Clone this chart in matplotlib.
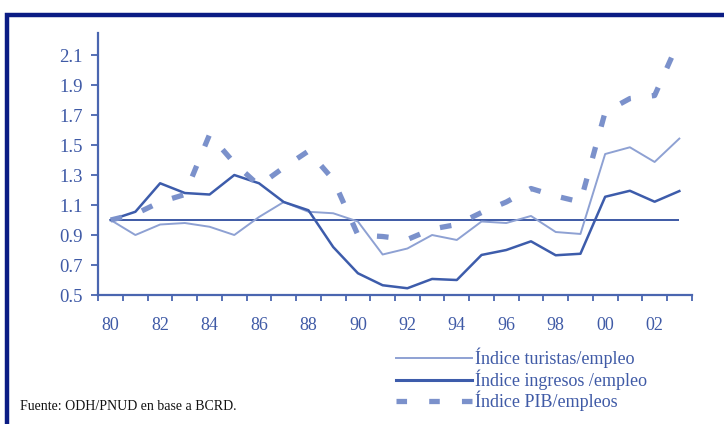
import matplotlib
matplotlib.use("Agg")
import matplotlib.pyplot as plt
from matplotlib.patches import Rectangle
from matplotlib.lines import Line2D

years = list(range(1980, 2004))
tick_labels = ["80", "82", "84", "86", "88", "90", "92", "94", "96", "98", "00", "02"]

turistas = [1.00, 0.90, 0.97, 0.98, 0.955, 0.90, 1.02, 1.12, 1.055, 1.045, 0.99, 0.77,
            0.81, 0.90, 0.867, 0.99, 0.98, 1.027, 0.92, 0.907, 1.44, 1.485, 1.387, 1.543]
ingresos = [1.00, 1.055, 1.245, 1.18, 1.17, 1.30, 1.245, 1.12, 1.065, 0.82, 0.645, 0.565,
            0.545, 0.607, 0.60, 0.767, 0.80, 0.858, 0.765, 0.775, 1.155, 1.195, 1.122, 1.193]
pib = [1.00, 1.04, 1.12, 1.17, 1.57, 1.38, 1.23, 1.35, 1.46, 1.27, 0.90, 0.89,
       0.87, 0.94, 0.97, 1.05, 1.12, 1.21, 1.16, 1.12, 1.72, 1.81, 1.83, 2.20]
base_value = 1.0

labels = ["Índice turistas/empleo", "Índice ingresos /empleo", "Índice PIB/empleos"]

c_tur = "#8ea1d3"
c_ing = "#3d5cab"
c_pib = "#7b91cb"
c_axis = "#4a66b0"
c_text = "#3f5aa6"
c_base = "#2e4c9e"

plt.rcParams["font.family"] = ["Liberation Serif", "DejaVu Serif"]

fig = plt.figure(figsize=(7.24, 4.24), dpi=100)
W, H = 724, 424
ax = fig.add_axes([98.3 / W, 1 - 295 / H, (691.7 - 98.3) / W, (295 - 33) / H])

x = list(range(len(years)))
ax.hlines(base_value, x[0], x[-1], color=c_base, lw=1.3, zorder=2)
ax.plot(x, turistas, color=c_tur, lw=1.4, zorder=3)
ax.plot(x, ingresos, color=c_ing, lw=1.8, zorder=4)
ax.plot(x, pib, color=c_pib, lw=3.8, dashes=(2.2, 4.0), dash_capstyle="butt", zorder=5)

ax.set_xlim(-0.5, len(years) - 0.5)
ax.set_ylim(0.5, 2.247)
ax.set_yticks([0.5, 0.7, 0.9, 1.1, 1.3, 1.5, 1.7, 1.9, 2.1])
ax.set_yticklabels(["0.5", "0.7", "0.9", "1.1", "1.3", "1.5", "1.7", "1.9", "2.1"])
ax.set_xticks([i - 0.5 for i in range(len(years) + 1)], minor=False)
ax.set_xticklabels([])
ax.set_xticks(list(range(0, len(years), 2)), minor=True)
ax.set_xticklabels(tick_labels, minor=True)

for s in ["top", "right"]:
    ax.spines[s].set_visible(False)
for s in ["left", "bottom"]:
    ax.spines[s].set_color(c_axis)
    ax.spines[s].set_linewidth(1.6)

ax.tick_params(axis="y", direction="out", length=5, width=1.3, color=c_axis,
               labelcolor=c_text, labelsize=13.5, pad=6)
ax.tick_params(axis="x", which="major", direction="out", length=4, width=1.3, color=c_axis)
ax.tick_params(axis="x", which="minor", length=0, labelcolor=c_text, labelsize=13, pad=16)

handles = [Line2D([], [], color=c_tur, lw=1.4),
           Line2D([], [], color=c_ing, lw=2.2),
           Line2D([], [], color=c_pib, lw=3.8, dashes=(2.0, 4.2), dash_capstyle="butt")]
leg = fig.legend(handles, labels, loc="upper left", bbox_to_anchor=(396 / W, 1 - 348 / H),
                 frameon=False, fontsize=13, handlelength=4.2, handletextpad=0.2,
                 labelspacing=0.05, borderpad=0, borderaxespad=0)
for t in leg.get_texts():
    t.set_color(c_text)

fig.text(20 / W, 1 - 407 / H, "Fuente: ODH/PNUD en base a BCRD.", fontsize=10,
         color="#111111", va="center", ha="left")

fig.patches.append(Rectangle((7 / W, -0.1), 1.2, (424 - 15) / H + 0.1,
                             transform=fig.transFigure, fill=False,
                             edgecolor="#0b1c84", lw=3.2, zorder=10))

fig.savefig("out.png", dpi=100)
